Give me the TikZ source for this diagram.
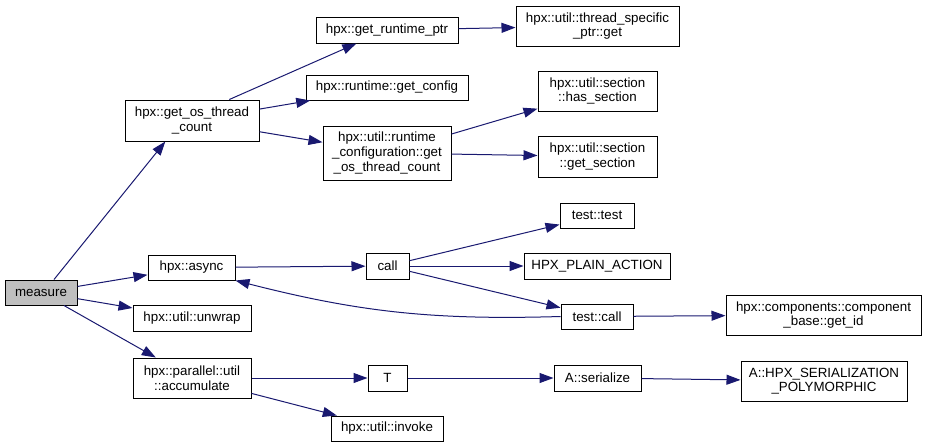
\documentclass[tikz,border=0pt]{standalone}
\usepackage{fontspec}
\setmainfont{Liberation Sans}
\usetikzlibrary{arrows.meta}
\definecolor{edgeblue}{HTML}{191970}
\definecolor{rootgray}{HTML}{BFBFBF}

\begin{document}
\begin{tikzpicture}[x=0.75pt,y=-0.75pt,
	fn/.style 2 args={draw=black,line width=0.75pt,fill=white,inner sep=0pt,align=center,
		font=\fontsize{10}{11}\selectfont,minimum width={#1*0.75pt},minimum height={#2*0.75pt}},
	calls/.style={draw=edgeblue,line width=0.75pt,-{Triangle[length=10.5pt,width=7.5pt]}}]
	\useasboundingbox (0,0) rectangle (927,447);
	% first column
	\node[fn={72}{25},fill=rootgray] (measure) at (41,292.5) {measure};
	% second column
	\node[fn={134}{41}] (getos) at (192,120.5) {hpx::get\_os\_thread\\\_count};
	\node[fn={87}{25}] (async) at (191.5,267.5) {hpx::async};
	\node[fn={118}{26}] (unwrap) at (192,318) {hpx::util::unwrap};
	\node[fn={118}{40}] (accum) at (192,378) {hpx::parallel::util\\::accumulate};
	% third column
	\node[fn={142}{26}] (rtptr) at (387,30) {hpx::get\_runtime\_ptr};
	\node[fn={162}{25}] (getcfg) at (387,87.5) {hpx::runtime::get\_config};
	\node[fn={128}{54}] (rtcfg) at (387,153) {hpx::util::runtime\\\_configuration::get\\\_os\_thread\_count};
	\node[fn={43}{26}] (call) at (387.5,266) {call};
	\node[fn={39}{26}] (tee) at (387.5,378) {T};
	\node[fn={112}{25}] (invoke) at (387,428.5) {hpx::util::invoke};
	% fourth column
	\node[fn={163}{40}] (tsget) at (597.5,26) {hpx::util::thread\_specific\\\_ptr::get};
	\node[fn={119}{40}] (hassec) at (597.5,91) {hpx::util::section\\::has\_section};
	\node[fn={119}{41}] (getsec) at (597.5,156.5) {hpx::util::section\\::get\_section};
	\node[fn={74}{25}] (ttest) at (597,215.5) {test::test};
	\node[fn={146}{26}] (plain) at (597,266) {HPX\_PLAIN\_ACTION};
	\node[fn={72}{25}] (tcall) at (597,316.5) {test::call};
	\node[fn={87}{26}] (ser) at (597.5,378) {A::serialize};
	% fifth column
	\node[fn={195}{40}] (getid) at (823.5,315) {hpx::components::component\\\_base::get\_id};
	\node[fn={166}{40}] (poly) at (824,381) {A::HPX\_SERIALIZATION\\\_POLYMORPHIC};

	\draw[calls] ([xshift=9.75pt]measure.north) -- ([xshift=-20pt]getos.south);
	\draw[calls] (measure) -- (async);
	\draw[calls] (measure) -- (unwrap);
	\draw[calls] (measure) -- (accum);
	\draw[calls] ([xshift=28pt]getos.north) -- (rtptr);
	\draw[calls] (getos) -- (getcfg);
	\draw[calls] (getos) -- (rtcfg);
	\draw[calls] (rtptr) -- (tsget);
	\draw[calls] (rtcfg) -- (hassec);
	\draw[calls] (rtcfg) -- (getsec);
	\draw[calls] (async) -- (call);
	\draw[calls] (call) -- (ttest);
	\draw[calls] (call) -- (plain);
	\draw[calls] (call) -- (tcall);
	\draw[calls] (tcall.west) to[bend left=8] (async.south east);
	\draw[calls] (tcall) -- (getid);
	\draw[calls] (accum) -- (tee);
	\draw[calls] (accum) -- (invoke);
	\draw[calls] (tee) -- (ser);
	\draw[calls] (ser) -- (poly);
\end{tikzpicture}
\end{document}
